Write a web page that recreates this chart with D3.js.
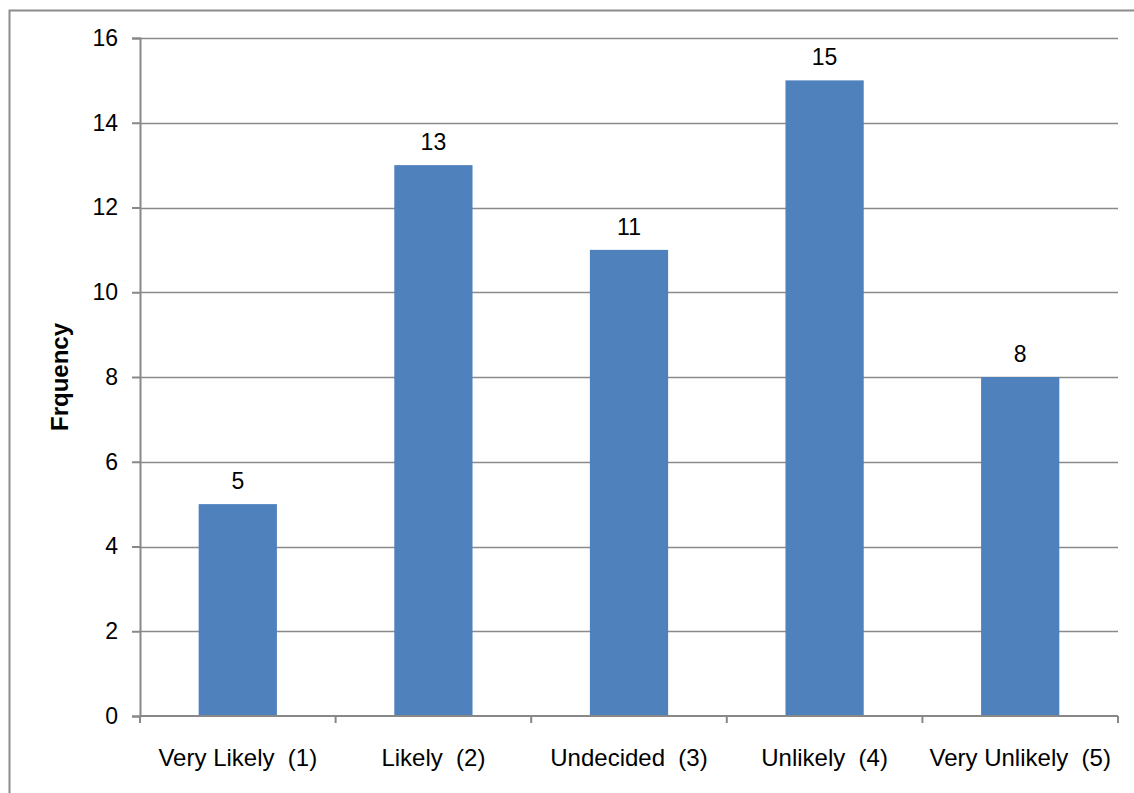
<!DOCTYPE html>
<html>
<head>
<meta charset="utf-8">
<script src="https://cdn.jsdelivr.net/npm/d3@7"></script>
<style>
  body { margin: 0; background: #fff; }
  text { font-family: "Liberation Sans", Arial, sans-serif; fill: #000; }
</style>
</head>
<body>
<div id="chart"></div>
<script>
var categories = ["Very Likely  (1)", "Likely  (2)", "Undecided  (3)", "Unlikely  (4)", "Very Unlikely  (5)"];
var values = [5, 13, 11, 15, 8];
var yTicks = [0, 2, 4, 6, 8, 10, 12, 14, 16];

var width = 1134, height = 793;
var margin = { left: 140, right: 16, top: 38, bottom: 77 };

var svg = d3.select("#chart").append("svg").attr("width", width).attr("height", height);

// outer chart border (only top/left show in frame)
svg.append("path")
    .attr("d", "M9.5,793 V10.5 H1134")
    .attr("fill", "none")
    .attr("stroke", "#8c8c8c")
    .attr("stroke-width", 2);

var x = d3.scaleBand()
    .domain(categories)
    .range([margin.left, width - margin.right])
    .paddingInner(0.6)
    .paddingOuter(0.3);

var y = d3.scaleLinear()
    .domain([0, 16])
    .range([height - margin.bottom, margin.top]);

// gridlines
svg.append("g").selectAll("line")
    .data(yTicks.filter(function(d) { return d > 0; }))
    .enter().append("line")
    .attr("x1", margin.left).attr("x2", width - margin.right)
    .attr("y1", function(d) { return Math.round(y(d)) + 0.5; })
    .attr("y2", function(d) { return Math.round(y(d)) + 0.5; })
    .attr("stroke", "#8a8a8a")
    .attr("stroke-width", 1.5);

// bars
svg.append("g").selectAll("rect")
    .data(values)
    .enter().append("rect")
    .attr("x", function(d, i) { return x(categories[i]); })
    .attr("width", x.bandwidth())
    .attr("y", function(d) { return y(d); })
    .attr("height", function(d) { return y(0) - y(d); })
    .attr("fill", "#4f81bd");

// value labels
svg.append("g").selectAll("text")
    .data(values)
    .enter().append("text")
    .attr("x", function(d, i) { return x(categories[i]) + x.bandwidth() / 2; })
    .attr("y", function(d) { return y(d) - 15; })
    .attr("text-anchor", "middle")
    .attr("font-size", 23)
    .text(function(d) { return d; });

// y axis
var yAxis = svg.append("g")
    .attr("transform", "translate(" + margin.left + ",0)")
    .call(d3.axisLeft(y).tickValues(yTicks).tickSize(8).tickPadding(14));
yAxis.selectAll("line, path").attr("stroke", "#888").attr("stroke-width", 2);
yAxis.selectAll("text").attr("font-size", 23).attr("font-family", "Liberation Sans, Arial, sans-serif").attr("fill", "#000");

// x axis with ticks at category boundaries
var xAxis = svg.append("g").attr("transform", "translate(0," + y(0) + ")");
xAxis.append("line")
    .attr("x1", margin.left).attr("x2", width - margin.right)
    .attr("stroke", "#888").attr("stroke-width", 2);
var step = (width - margin.right - margin.left) / categories.length;
xAxis.selectAll("line.tick")
    .data(d3.range(categories.length + 1))
    .enter().append("line")
    .attr("class", "tick")
    .attr("x1", function(i) { return margin.left + i * step; })
    .attr("x2", function(i) { return margin.left + i * step; })
    .attr("y1", 0).attr("y2", 7)
    .attr("stroke", "#888").attr("stroke-width", 2);
xAxis.selectAll("text")
    .data(categories)
    .enter().append("text")
    .attr("x", function(d) { return x(d) + x.bandwidth() / 2; })
    .attr("y", 50)
    .attr("text-anchor", "middle")
    .attr("font-size", 24)
    .style("white-space", "pre")
    .text(function(d) { return d; });

// y title
svg.append("text")
    .attr("transform", "translate(68," + (y(8)) + ") rotate(-90)")
    .attr("text-anchor", "middle")
    .attr("font-size", 24)
    .attr("font-weight", "bold")
    .text("Frquency");
</script>
</body>
</html>
